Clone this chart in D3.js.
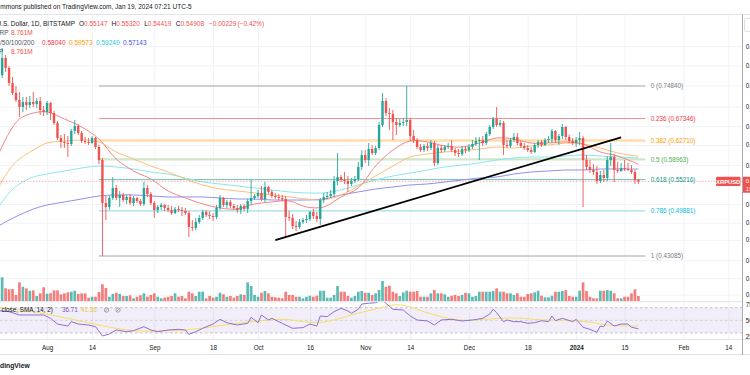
<!DOCTYPE html>
<html><head><meta charset="utf-8">
<script src="https://cdn.jsdelivr.net/npm/d3@7"></script>
<style>
body{margin:0;background:#fff;overflow:hidden}
svg{display:block}
text{font-family:"Liberation Sans",Arial,sans-serif}
</style></head>
<body><svg id="c" width="750" height="375"></svg>
<script>
// ---------------- DATA ----------------
const firstDay = "2023-07-18", lastDay = "2024-01-19";
const open = [
.7339,.7756,.8197,.7935,.7557,.7316,.7151,.6991,.7105,.7036,
.7105,.7059,.7128,.6923,.6878,.7082,.6856,.6637,.6321,.6240,
.6219,.6199,.6466,.6573,.6425,.6260,.6240,.6219,.6321,.6139,
.5885,.5118,.5052,.5202,.5374,.5202,.5253,.5168,.5219,.5118,
.5202,.5151,.5102,.5374,.5270,.5118,.5003,.5052,.5085,.5036,
.5003,.4954,.5019,.5003,.4987,.4954,.4734,.4719,.4812,.4875,
.4971,.4922,.4906,.4890,.5036,.5202,.5085,.5135,.5069,.5036,
.5003,.5069,.5019,.5151,.5202,.5236,.5288,.5185,.5391,.5305,
.5236,.5219,.5202,.5185,.4890,.4875,.4750,.4734,.4812,.4843,
.4859,.4971,.4906,.4859,.5168,.5219,.5236,.5270,.5497,.5569,
.5515,.5497,.5444,.5497,.5533,.5753,.5981,.5885,.6099,.6020,
.6119,.6594,.7128,.6856,.6834,.6659,.6594,.6637,.6659,.6702,
.6362,.6280,.6139,.6079,.6159,.6119,.6219,.5828,.6119,.6079,
.6139,.6159,.6079,.6020,.6001,.6099,.6079,.6139,.6199,.6260,
.6280,.6219,.6404,.6551,.6724,.6594,.6637,.6179,.6159,.6280,
.6342,.6219,.6159,.6119,.6079,.6040,.6179,.6240,.6179,.6280,
.6301,.6466,.6280,.6362,.6551,.6342,.6260,.6219,.6280,.6321,
.5885,.5753,.5697,.5660,.5497,.5605,.5551,.5885,.5943,.5697,
.5679,.5734,.5715,.5697,.5660,.55147];
const high = [
.7883,.8467,.8277,.7986,.7706,.7484,.7339,.7221,.7221,.7245,
.7339,.7198,.7221,.7013,.7128,.7105,.6901,.6680,.6383,.6404,
.6362,.6509,.6702,.6616,.6466,.6342,.6321,.6362,.6342,.6179,
.5923,.5236,.5236,.5569,.5426,.5322,.5288,.5253,.5270,.5236,
.5219,.5185,.5479,.5426,.5305,.5151,.5085,.5118,.5102,.5085,
.5069,.5052,.5069,.5052,.5036,.4987,.4843,.4875,.4922,.5003,
.5003,.4987,.4954,.5085,.5253,.5219,.5168,.5168,.5102,.5085,
.5102,.5102,.5185,.5515,.5270,.5339,.5409,.5479,.5409,.5339,
.5288,.5270,.5253,.5236,.4987,.4938,.4827,.4859,.4875,.4922,
.4987,.5019,.4971,.5202,.5288,.5305,.5339,.5587,.6020,.5605,
.5660,.5587,.5551,.5587,.5847,.6079,.6079,.6219,.6179,.6159,
.6659,.7316,.7198,.6968,.6923,.6746,.6724,.6746,.7484,.6746,
.6487,.6321,.6199,.6199,.6219,.6280,.6260,.6179,.6179,.6179,
.6219,.6280,.6119,.6099,.6159,.6159,.6199,.6280,.6342,.6342,
.6362,.6445,.6594,.6767,.6991,.6702,.6680,.6280,.6321,.6425,
.6425,.6260,.6219,.6179,.6139,.6219,.6280,.6280,.6321,.6362,
.6509,.6487,.6404,.6616,.6573,.6383,.6321,.6342,.6445,.6362,
.5981,.5885,.5809,.5771,.5679,.5697,.5962,.6219,.6001,.5847,
.5828,.5885,.5828,.5790,.5697,.55320];
const low = [
.7268,.7681,.7832,.7484,.7268,.7105,.6767,.6878,.6923,.6968,
.6991,.6968,.6811,.6789,.6811,.6702,.6594,.6280,.6119,.6119,
.5943,.6159,.6404,.6383,.6219,.6199,.6179,.6199,.6099,.5809,
.43085,.4843,.5003,.5168,.5168,.5052,.5135,.5102,.5085,.5069,
.5118,.5069,.5069,.5219,.5085,.4875,.4954,.5003,.4987,.4971,
.4922,.4938,.4971,.4906,.4922,.4583,.4673,.4688,.4781,.4843,
.4890,.4859,.4827,.4859,.5003,.5052,.5036,.5036,.5003,.4954,
.4938,.4987,.4954,.5085,.5168,.5202,.5151,.5135,.5270,.5202,
.5185,.5168,.5151,.4583,.4827,.4704,.4673,.4704,.4781,.4796,
.4827,.4859,.4812,.4765,.5118,.5185,.5202,.5219,.5426,.5479,
.5444,.5305,.5409,.5462,.5497,.5697,.5828,.5771,.5981,.5981,
.6079,.6551,.6789,.6487,.6280,.6383,.6551,.6573,.6573,.6260,
.6219,.6099,.6040,.6040,.6059,.6079,.5771,.5790,.6020,.6040,
.6099,.6040,.5962,.5943,.5962,.6020,.6040,.6099,.6159,.5885,
.6159,.6179,.6362,.6509,.6551,.6551,.5981,.6119,.6119,.6240,
.6179,.6119,.6079,.6040,.6001,.6020,.6119,.6139,.6159,.6219,
.6219,.6240,.6179,.6301,.6280,.6219,.6179,.6139,.6179,.5052,
.5697,.5642,.5605,.5444,.5462,.5479,.5497,.5771,.5479,.5642,
.5660,.5679,.5679,.5623,.5444,.54419];
const close = [
.7756,.8197,.7935,.7557,.7316,.7151,.6991,.7105,.7036,.7105,
.7059,.7128,.6923,.6878,.7082,.6856,.6637,.6321,.6240,.6219,
.6199,.6466,.6573,.6425,.6260,.6240,.6219,.6321,.6139,.5885,
.5118,.5052,.5202,.5374,.5202,.5253,.5168,.5219,.5118,.5202,
.5151,.5102,.5374,.5270,.5118,.5003,.5052,.5085,.5036,.5003,
.4954,.5019,.5003,.4987,.4954,.4734,.4719,.4812,.4875,.4971,
.4922,.4906,.4890,.5036,.5202,.5085,.5135,.5069,.5036,.5003,
.5069,.5019,.5151,.5202,.5236,.5288,.5185,.5391,.5305,.5236,
.5219,.5202,.5185,.4890,.4875,.4750,.4734,.4812,.4843,.4859,
.4971,.4906,.4859,.5168,.5219,.5236,.5270,.5497,.5569,.5515,
.5497,.5444,.5497,.5533,.5753,.5981,.5885,.6099,.6020,.6119,
.6594,.7128,.6856,.6834,.6659,.6594,.6637,.6659,.6702,.6362,
.6280,.6139,.6079,.6159,.6119,.6219,.5828,.6119,.6079,.6139,
.6159,.6079,.6020,.6001,.6099,.6079,.6139,.6199,.6260,.6280,
.6219,.6404,.6551,.6724,.6594,.6637,.6179,.6159,.6280,.6342,
.6219,.6159,.6119,.6079,.6040,.6179,.6240,.6179,.6280,.6301,
.6466,.6280,.6362,.6551,.6342,.6260,.6219,.6280,.6321,.5885,
.5753,.5697,.5660,.5497,.5605,.5551,.5885,.5943,.5697,.5679,
.5734,.5715,.5697,.5660,.55137,.54908];
const volume = [
48.5,41.5,22.2,20.5,21.0,10.5,32.7,25.0,22.2,18.0,
18.7,8.8,13.5,24.0,12.8,13.5,18.7,18.7,11.7,13.5,
15.2,16.3,18.0,12.3,13.5,13.5,5.8,7.5,7.5,15.8,
29.2,22.8,7.5,12.3,14.5,12.3,8.8,8.8,10.0,4.7,
7.5,10.0,13.5,7.5,10.5,13.5,7.5,4.7,5.8,7.5,
8.8,13.5,7.5,8.8,4.7,16.3,13.5,8.8,16.3,16.3,
4.7,8.8,5.8,7.5,14.5,11.7,7.5,8.8,5.8,8.8,
11.7,10.5,32.7,26.3,10.5,7.5,14.5,17.5,13.5,7.5,
6.5,5.8,4.7,16.3,10.5,10.5,7.5,7.5,4.7,7.5,
9.3,7.5,9.3,18.0,18.0,5.8,5.8,10.5,26.3,16.3,
16.3,8.8,5.8,8.8,16.3,17.5,14.5,14.5,10.5,13.5,
19.3,35.0,25.0,26.8,16.3,13.5,8.8,15.2,18.0,16.3,
16.3,17.5,7.5,7.5,7.5,13.5,19.3,13.5,13.5,11.7,
7.5,9.3,10.5,8.8,10.5,14.5,13.5,7.5,8.8,16.3,
16.3,16.3,16.3,17.5,22.2,16.3,16.3,13.5,13.5,10.5,
13.5,7.5,7.5,12.3,13.5,15.2,18.0,9.3,6.5,6.5,
9.3,16.3,16.3,17.5,19.3,8.8,7.5,7.5,18.0,32.7,
17.5,7.5,4.7,4.7,18.0,18.0,19.3,18.0,13.5,4.7,
4.7,7.5,7.5,13.5,20.5,8.761];

// moving averages
const maDates = ["2023-07-18","2023-07-21","2023-07-24","2023-07-28","2023-08-01","2023-08-06","2023-08-11","2023-08-16","2023-08-21","2023-08-26","2023-08-31","2023-09-05","2023-09-10","2023-09-15","2023-09-20","2023-09-25","2023-09-30","2023-10-05","2023-10-10","2023-10-15","2023-10-20","2023-10-25","2023-10-30","2023-11-04","2023-11-09","2023-11-14","2023-11-19","2023-11-24","2023-11-29","2023-12-04","2023-12-09","2023-12-14","2023-12-19","2023-12-24","2023-12-29","2024-01-03","2024-01-08","2024-01-13","2024-01-19"];
const ma20 = [.6001,.6425,.6724,.6855,.6878,.6724,.6551,.6300,.5904,.5679,.5533,.5322,.5202,.5102,.5036,.5019,.5102,.5135,.5152,.5052,.5052,.5219,.5374,.5771,.6079,.6260,.6240,.6159,.6139,.6219,.6321,.6300,.6219,.6219,.6240,.6199,.6040,.5962,.58040];
const ma50 = [.5391,.5697,.5904,.6079,.6219,.6260,.6280,.6240,.6040,.5904,.5771,.5660,.5533,.5426,.5356,.5322,.5288,.5253,.5219,.5185,.5168,.5253,.5409,.5587,.5771,.5943,.6001,.6040,.6059,.6099,.6139,.6119,.6159,.6179,.6219,.6199,.6119,.6020,.59573];
const ma100 = [.5052,.5288,.5444,.5569,.5623,.5679,.5734,.5771,.5752,.5715,.5660,.5623,.5551,.5479,.5444,.5409,.5374,.5339,.5305,.5288,.5288,.5339,.5426,.5515,.5587,.5641,.5697,.5752,.5790,.5828,.5885,.5923,.5943,.5943,.5962,.5981,.5962,.5943,.59249];
const ma200 = [.4750,.4843,.4922,.5019,.5085,.5135,.5185,.5236,.5253,.5253,.5236,.5219,.5219,.5219,.5202,.5185,.5185,.5168,.5168,.5168,.5185,.5253,.5305,.5356,.5391,.5426,.5444,.5479,.5515,.5551,.5569,.5623,.5660,.5679,.5697,.5697,.5715,.5715,.57143];

// RSI (14) and its SMA
const rsiDates = ["2023-07-18","2023-07-21","2023-07-24","2023-07-26","2023-07-28","2023-07-31","2023-08-02","2023-08-04","2023-08-07","2023-08-08","2023-08-10","2023-08-13","2023-08-15","2023-08-17","2023-08-19","2023-08-21","2023-08-24","2023-08-26","2023-08-29","2023-08-31","2023-09-02","2023-09-05","2023-09-08","2023-09-10","2023-09-11","2023-09-13","2023-09-15","2023-09-18","2023-09-20","2023-09-22","2023-09-25","2023-09-28","2023-09-29","2023-10-01","2023-10-02","2023-10-04","2023-10-05","2023-10-08","2023-10-11","2023-10-14","2023-10-16","2023-10-18","2023-10-19","2023-10-21","2023-10-23","2023-10-25","2023-10-27","2023-10-28","2023-10-30","2023-10-31","2023-11-02","2023-11-04","2023-11-06","2023-11-07","2023-11-09","2023-11-12","2023-11-14","2023-11-16","2023-11-19","2023-11-21","2023-11-23","2023-11-26","2023-11-29","2023-12-02","2023-12-05","2023-12-07","2023-12-08","2023-12-09","2023-12-11","2023-12-12","2023-12-14","2023-12-16","2023-12-18","2023-12-20","2023-12-22","2023-12-24","2023-12-25","2023-12-26","2023-12-28","2023-12-31","2024-01-01","2024-01-03","2024-01-05","2024-01-07","2024-01-08","2024-01-09","2024-01-10","2024-01-12","2024-01-14","2024-01-16","2024-01-17","2024-01-19"];
const rsi = [65.3,63.7,58.5,58.5,58.5,58.5,53.2,44.2,41,47.9,44.2,42.6,40,25.3,28.4,34.7,32.1,33.7,40,34.7,32.1,34.7,35.8,34.7,27.9,32.1,37.4,44.2,51.6,46.3,42.6,45.3,54.8,46.3,58.5,50.6,53.2,45.3,37.4,38.5,44.2,41,56.9,55.8,63.7,69,64.8,61.1,67.5,75.8,77,77.9,82.2,77,67.5,66.4,56.9,50.6,49,42.6,50.6,51.6,49,50.6,53.2,60,67.5,62.1,47.9,50.6,47.9,47.9,45.3,46.3,49.4,47.9,56.9,49.4,53.2,47.9,51.6,39,35.8,31.1,41,40,49,41,44.2,44.2,39,36.71];
const rsiSmaDates = ["2023-07-18","2023-07-28","2023-08-07","2023-08-16","2023-08-26","2023-09-05","2023-09-12","2023-09-19","2023-09-29","2023-10-08","2023-10-18","2023-10-23","2023-10-28","2023-11-04","2023-11-09","2023-11-13","2023-11-18","2023-11-23","2023-11-28","2023-12-03","2023-12-08","2023-12-12","2023-12-17","2023-12-22","2023-12-27","2024-01-01","2024-01-06","2024-01-10","2024-01-15","2024-01-19"];
const rsiSma = [70.6,63.7,53.2,42.6,33.7,33.7,35.8,41,47.9,51.6,46.3,50.6,58.5,68,74.3,72.7,63.7,55.8,50.6,50.6,52.6,53.7,53.2,50.6,50.6,49.4,46.3,42.6,41,41.35];

// Fibonacci retracement and trend line
const fibLevels = [0, 0.236, 0.382, 0.5, 0.618, 0.786, 1];
const fibPrices = [0.74840, 0.67346, 0.62710, 0.58963, 0.55216, 0.49881, 0.43085];
const fibSpan = ["2023-08-16", "2024-01-21"];
const trendDates = ["2023-10-06", "2024-01-14"];
const trendPrices = [0.4538, 0.6335];

// axis ticks
const priceTicks = [0.8520,0.8000,0.7500,0.7000,0.6570,0.6180,0.5790,0.5100,0.4800,0.4540,0.4250,0.4010,0.3800];
const rsiTicks = [75, 50, 25];
const dateTicks = ["2023-08-01","2023-08-14","2023-09-01","2023-09-18","2023-10-01","2023-10-16","2023-11-01","2023-11-14","2023-12-01","2023-12-18","2024-01-01","2024-01-15","2024-02-01","2024-02-14"];
const dateLabels = ["Aug","14","Sep","18","Oct","16","Nov","14","Dec","18","2024","15","Feb","14"];

// ---------------- DRAW ----------------
const GREEN = "#26a69a", RED = "#ef5350", DARK = "#131722", GRID = "#f2f3f7", BORDER = "#e0e3eb";
const PR = 742.5, MT = 15, MB = 301.5, RT = 302, RB = 339;
const parse = d3.utcParse("%Y-%m-%d");
const days = d3.utcDay.range(parse(firstDay), d3.utcDay.offset(parse(lastDay), 1));
const bars = days.map((t, i) => ({t, o: open[i], h: high[i], l: low[i], c: close[i], v: volume[i]}));

const x = d3.scaleUtc().domain([parse("2023-08-01"), parse("2024-02-14")]).range([47.1, 728.3]);
const y = d3.scaleLog().domain([0.43085, 0.7484]).range([256, 86]);
const yVol = d3.scaleLinear().domain([0, 60]).range([301, 266.75]);
const yRsi = d3.scaleLinear().domain([30, 70]).range([333, 307.7]);

const svg = d3.select("#c");
svg.append("rect").attr("width", 750).attr("height", 375).attr("fill", "#fff");
const defs = svg.append("defs");
defs.append("clipPath").attr("id", "cm").append("rect").attr("x", 0).attr("y", MT).attr("width", PR).attr("height", MB - MT);
defs.append("clipPath").attr("id", "cr").append("rect").attr("x", 0).attr("y", RT).attr("width", PR).attr("height", RB - RT);

// grid
const grid = svg.append("g");
grid.append("g").attr("transform", `translate(0,${RB})`)
  .call(d3.axisBottom(x).tickValues(dateTicks.map(parse)).tickSize(-(RB - MT)).tickFormat(""))
  .call(g => { g.select(".domain").remove(); g.selectAll("line").attr("stroke", GRID); });
grid.append("g").attr("clip-path", "url(#cm)")
  .call(d3.axisLeft(y).tickValues(priceTicks).tickSize(-PR).tickFormat(""))
  .call(g => { g.select(".domain").remove(); g.selectAll("line").attr("stroke", GRID); });

// pane borders
const borders = svg.append("g").attr("stroke", BORDER).attr("stroke-width", 1);
borders.append("line").attr("x1", 0).attr("x2", 750).attr("y1", MT - 0.5).attr("y2", MT - 0.5);
borders.append("line").attr("x1", 0).attr("x2", PR).attr("y1", MB + 0.3).attr("y2", MB + 0.3);
borders.append("line").attr("x1", 0).attr("x2", 750).attr("y1", RB + 0.5).attr("y2", RB + 0.5);
borders.append("line").attr("x1", 0).attr("x2", 750).attr("y1", 354.5).attr("y2", 354.5);

// main pane
const main = svg.append("g").attr("clip-path", "url(#cm)");

// volume
main.append("g").selectAll("rect").data(bars).join("rect")
  .attr("x", d => x(d.t) - 1.35).attr("width", 2.7)
  .attr("y", d => yVol(d.v)).attr("height", d => yVol(0) - yVol(d.v))
  .attr("fill", d => d.c >= d.o ? GREEN : RED).attr("opacity", 0.75);

// fib lines
const fibStyle = [
  {line: "#a3a6af", w: 1, text: "#787b86"},
  {line: "#f48e8e", w: 1, text: "#f23645"},
  {line: "#ffdcae", w: 2.6, text: "#ff9800"},
  {line: "#cfe7cc", w: 2.2, text: "#4caf50"},
  {line: "#6cc4b3", w: 1, text: "#089981"},
  {line: "#86d7e3", w: 1, text: "#00bcd4"},
  {line: "#a3a6af", w: 1, text: "#787b86"}
];
const fib = fibLevels.map((lv, i) => ({lv, p: fibPrices[i], s: fibStyle[i]}));
const fx0 = x(parse(fibSpan[0])), fx1 = x(parse(fibSpan[1]));
main.append("g").selectAll("line").data(fib).join("line")
  .attr("x1", fx0).attr("x2", fx1).attr("y1", d => y(d.p)).attr("y2", d => y(d.p))
  .attr("stroke", d => d.s.line).attr("stroke-width", d => d.s.w);

// moving averages
const maLine = d3.line().x(d => x(d.t)).y(d => y(d.v)).curve(d3.curveCatmullRom.alpha(0.5));
const maSets = [[ma200, "#8f8ff2"], [ma100, "#8ae6ef"], [ma50, "#ffbd75"], [ma20, "#f48484"]];
maSets.forEach(([arr, col]) => {
  main.append("path").datum(maDates.map((s, i) => ({t: parse(s), v: arr[i]})))
    .attr("d", maLine).attr("fill", "none").attr("stroke", col).attr("stroke-width", 1);
});

// last price line
const lastBar = bars[bars.length - 1];
main.append("line").attr("x1", 0).attr("x2", PR).attr("y1", y(lastBar.c)).attr("y2", y(lastBar.c))
  .attr("stroke", RED).attr("stroke-opacity", 0.55).attr("stroke-dasharray", "1.5,1.5").attr("stroke-width", 0.8);

// candles
const cg = main.append("g");
cg.selectAll("line").data(bars).join("line")
  .attr("x1", d => x(d.t)).attr("x2", d => x(d.t))
  .attr("y1", d => y(d.h)).attr("y2", d => y(d.l))
  .attr("stroke", d => d.c >= d.o ? GREEN : RED).attr("stroke-width", 0.9);
cg.selectAll("rect").data(bars).join("rect")
  .attr("x", d => x(d.t) - 1.2).attr("width", 2.4)
  .attr("y", d => Math.min(y(d.o), y(d.c)))
  .attr("height", d => Math.max(0.9, Math.abs(y(d.o) - y(d.c))))
  .attr("fill", d => d.c >= d.o ? GREEN : RED);

// trend line
main.append("line")
  .attr("x1", x(parse(trendDates[0]))).attr("y1", y(trendPrices[0]))
  .attr("x2", x(parse(trendDates[1]))).attr("y2", y(trendPrices[1]))
  .attr("stroke", "#000").attr("stroke-width", 1.8);

// fib labels
svg.append("g").selectAll("text").data(fib).join("text")
  .attr("x", fx1 + 5.5).attr("y", d => y(d.p)).attr("dy", "0.35em")
  .attr("font-size", 6.3).attr("fill", d => d.s.text)
  .text(d => `${d.lv} (${d3.format(".5f")(d.p)})`);

// RSI pane
const rp = svg.append("g").attr("clip-path", "url(#cr)");
rp.append("rect").attr("x", 0).attr("width", PR).attr("y", yRsi(70)).attr("height", yRsi(30) - yRsi(70))
  .attr("fill", "#7e57c2").attr("fill-opacity", 0.1);
rp.append("g").selectAll("line").data([70, 50, 30]).join("line")
  .attr("x1", 0).attr("x2", PR).attr("y1", d => yRsi(d)).attr("y2", d => yRsi(d))
  .attr("stroke", "#787b86").attr("stroke-opacity", d => d === 50 ? 0.35 : 0.55)
  .attr("stroke-dasharray", "2.5,2.5").attr("stroke-width", 0.8);
rp.append("path").datum(rsiSmaDates.map((s, i) => ({t: parse(s), v: rsiSma[i]})))
  .attr("d", d3.line().x(d => x(d.t)).y(d => yRsi(d.v)).curve(d3.curveCatmullRom.alpha(0.5)))
  .attr("fill", "none").attr("stroke", "#f6de62").attr("stroke-width", 1);
rp.append("path").datum(rsiDates.map((s, i) => ({t: parse(s), v: rsi[i]})))
  .attr("d", d3.line().x(d => x(d.t)).y(d => yRsi(d.v))).attr("fill", "none").attr("stroke", "#8e6fd4").attr("stroke-width", 1);

// axes
const axisStyle = g => {
  g.attr("font-size", 6.3).attr("font-family", '"Liberation Sans",Arial,sans-serif');
  g.select(".domain").remove();
  g.selectAll("text").attr("fill", DARK);
};
svg.append("g").attr("transform", `translate(${PR},0)`)
  .call(d3.axisRight(y).tickValues(priceTicks).tickFormat(d3.format(".4f")).tickSize(0).tickPadding(3.3)).call(axisStyle);
svg.append("g").attr("transform", `translate(${PR},0)`)
  .call(d3.axisRight(yRsi).tickValues(rsiTicks).tickFormat(d3.format(".2f")).tickSize(0).tickPadding(3.3)).call(axisStyle);
svg.append("g").attr("transform", `translate(0,${RB})`)
  .call(d3.axisBottom(x).tickValues(dateTicks.map(parse)).tickFormat((d, i) => dateLabels[i]).tickSize(0).tickPadding(6.2))
  .call(axisStyle)
  .call(g => g.selectAll("text").attr("font-weight", (d, i) => dateLabels[i] === "2024" ? 700 : 400));
svg.append("line").attr("x1", PR).attr("x2", PR).attr("y1", MT - 0.5).attr("y2", 355).attr("stroke", "#a9acb4").attr("stroke-width", 1);

// price labels
const yl = y(lastBar.c);
svg.append("rect").attr("x", 716).attr("y", yl - 4.6).attr("width", 24.5).attr("height", 9.2).attr("rx", 1).attr("fill", RED);
svg.append("text").attr("x", 728.2).attr("y", yl + 0.2).attr("dy", "0.35em").attr("text-anchor", "middle")
  .attr("font-size", 5.8).attr("font-weight", 700).attr("fill", "#fff").text("XRPUSD");
svg.append("rect").attr("x", PR + 0.5).attr("y", yl - 4.6).attr("width", 10).attr("height", 16).attr("fill", RED);
svg.append("text").attr("x", 745.8).attr("y", yl - 0.6).attr("dy", "0.35em").attr("font-size", 6).attr("fill", "#fff").text(d3.format(".5f")(lastBar.c));
svg.append("text").attr("x", 745.8).attr("y", yl + 7.4).attr("dy", "0.35em").attr("font-size", 6).attr("fill", "#fff").text("15:38:39");
svg.append("rect").attr("x", 744.5).attr("y", 18.5).attr("width", 12).attr("height", 13).attr("rx", 2)
  .attr("fill", "#fff").attr("stroke", "#d1d4dc").attr("stroke-width", 0.8);

// header / legend
const f5 = d3.format(".5f");
const hdr = svg.append("g").attr("font-size", 6.5).attr("fill", DARK);
hdr.append("text").attr("x", 0.3).attr("y", 9.4).text("mmons published on TradingView.com, Jan 19, 2024 07:21 UTC-5");
const r2 = hdr.append("text").attr("y", 26);
const prevClose = bars[bars.length - 2].c;
const chg = lastBar.c - prevClose;
const ohlcCol = lastBar.c >= lastBar.o ? GREEN : RED;
r2.append("tspan").attr("x", -3.6).text("U.S. Dollar, 1D, BITSTAMP");
[["O", lastBar.o, 79], ["H", lastBar.h, 111.6], ["L", lastBar.l, 144.2], ["C", lastBar.c, 175.8]].forEach(([k, v, px]) => {
  r2.append("tspan").attr("x", px).text(k);
  r2.append("tspan").attr("fill", ohlcCol).text(f5(v));
});
r2.append("tspan").attr("x", 209).attr("fill", ohlcCol).text(d3.format("+.5f")(chg).replace("-", "\u2212"));
r2.append("tspan").attr("x", 237.5).attr("fill", ohlcCol).text("(" + d3.format("+.2%")(chg / prevClose).replace("-", "\u2212") + ")");

const r3 = hdr.append("text").attr("y", 35.2);
r3.append("tspan").attr("x", -0.5).attr("fill", "#50535e").text("RP");
r3.append("tspan").attr("x", 11).attr("fill", RED).text(d3.format(".3f")(lastBar.v) + "M");

const r4 = hdr.append("text").attr("y", 44.6);
r4.append("tspan").attr("x", 0).attr("fill", "#50535e").text("/50/100/200");
[[ma20, "#f23645", 42], [ma50, "#ff9800", 69], [ma100, "#22c7dd", 96], [ma200, "#3f51e8", 123]].forEach(([arr, col, px]) => {
  r4.append("tspan").attr("x", px).attr("fill", col).text(f5(arr[arr.length - 1]));
});

const r5 = hdr.append("text").attr("y", 54.2);
r5.append("tspan").attr("x", -1).attr("fill", "#50535e").text("P");
r5.append("tspan").attr("x", 11).attr("fill", RED).text(d3.format(".3f")(lastBar.v) + "M");

// RSI legend
const rl = svg.append("text").attr("y", 312.2).attr("font-size", 6.3).attr("fill", DARK);
rl.append("tspan").attr("x", 1.5).text("close, SMA, 14, 2)");
rl.append("tspan").attr("x", 62).attr("fill", "#7e57c2").text(d3.format(".2f")(rsi[rsi.length - 1]));
rl.append("tspan").attr("x", 81).attr("fill", "#e8c93c").text(d3.format(".2f")(rsiSma[rsiSma.length - 1]));
[106.5, 118].forEach(cx => {
  const g = svg.append("g").attr("stroke", "#787b86").attr("stroke-width", 0.6).attr("fill", "none");
  g.append("circle").attr("cx", cx).attr("cy", 310).attr("r", 2.2);
  g.append("line").attr("x1", cx - 1.6).attr("y1", 311.6).attr("x2", cx + 1.6).attr("y2", 308.4);
});

// footer
svg.append("text").attr("x", 0).attr("y", 368.3).attr("font-size", 6.8).attr("fill", DARK).attr("font-weight", 600).text("dingView");
</script>
</body></html>
